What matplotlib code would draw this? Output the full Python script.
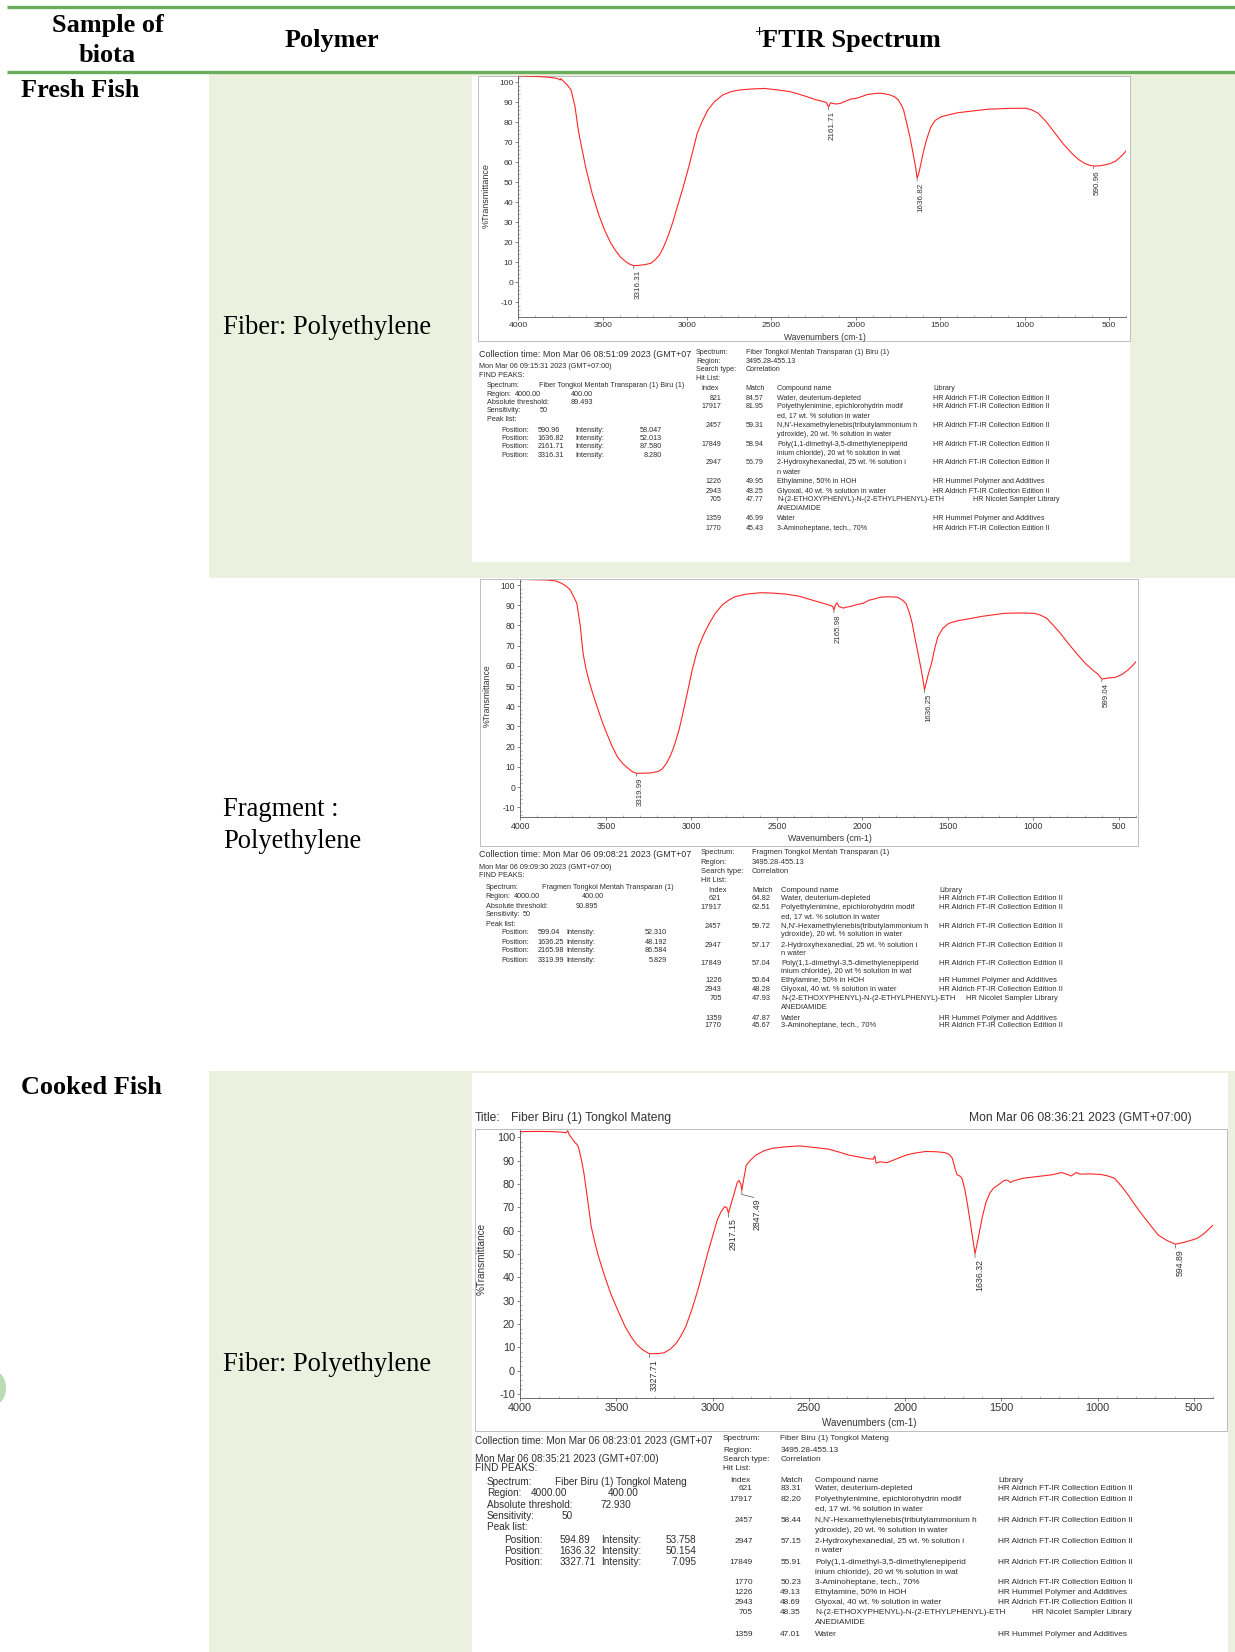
import matplotlib
matplotlib.use("Agg")
import matplotlib.pyplot as plt
from matplotlib.patches import Rectangle, Ellipse
from matplotlib.ticker import MultipleLocator
from matplotlib.transforms import offset_copy

plt.rcParams["axes.unicode_minus"] = False
plt.rcParams["font.family"] = "Liberation Sans"

# ---------------- spectra ----------------
# fresh fish, fiber
wn_fresh_fiber = [4000, 3900, 3820, 3770, 3752, 3748, 3735, 3710, 3688, 3665,
                  3645, 3626, 3600, 3563, 3525, 3489, 3455, 3426, 3395, 3364,
                  3340, 3316.31, 3290, 3250, 3214, 3190, 3164, 3140, 3114, 3085,
                  3052, 3020, 2990, 2965, 2940, 2910, 2877, 2840, 2790, 2740,
                  2690, 2620, 2541, 2460, 2391, 2340, 2291, 2240, 2200, 2175,
                  2161.71, 2150, 2120, 2092, 2060, 2030, 2000, 1967, 1930, 1900,
                  1870, 1842, 1800, 1770, 1750, 1730, 1717, 1700, 1680, 1660,
                  1645, 1636.82, 1628, 1615, 1600, 1585, 1570, 1555, 1530, 1493,
                  1450, 1393, 1300, 1218, 1100, 994, 960, 919, 870, 819,
                  770, 720, 680, 645, 610, 590.96, 560, 530, 495, 460,
                  420, 400]
tr_fresh_fiber = [103.0, 102.8, 102.4, 101.8, 101.0, 101.7, 100.5, 98.5, 96.0, 88.0,
                  76.0, 67.7, 57.0, 44.4, 34.0, 26.0, 20.0, 16.0, 12.6, 10.3,
                  9.0, 8.28, 8.4, 8.8, 9.5, 11.2, 13.6, 17.5, 22.8, 30.0,
                  39.4, 48.5, 57.7, 66.0, 74.4, 80.5, 86.0, 90.0, 93.5, 95.2,
                  96.0, 96.5, 96.8, 96.0, 95.2, 94.0, 92.7, 91.2, 90.4, 89.8,
                  87.58, 89.6, 89.0, 89.3, 90.5, 91.5, 91.8, 92.7, 93.8, 94.1,
                  94.4, 94.3, 93.6, 92.6, 91.2, 88.5, 86.0, 80.0, 72.7, 64.0,
                  57.0, 52.01, 54.0, 59.0, 65.0, 70.0, 74.0, 77.7, 80.8, 82.7,
                  83.6, 84.7, 85.6, 86.4, 86.8, 86.9, 86.2, 84.4, 80.0, 74.4,
                  69.0, 64.4, 61.3, 59.4, 58.3, 58.05, 58.1, 58.5, 59.2, 60.5,
                  63.5, 65.5]
peaks_fresh_fiber = [3316.31, 2161.71, 1636.82, 590.96]

# fresh fish, fragment
wn_fresh_fragment = [4000, 3900, 3845, 3790, 3758, 3730, 3708, 3690, 3670, 3650,
                     3633, 3615, 3595, 3570, 3545, 3520, 3495, 3465, 3433, 3400,
                     3370, 3345, 3319.99, 3280, 3240, 3195, 3170, 3145, 3120, 3095,
                     3070, 3045, 3020, 2995, 2975, 2958, 2925, 2895, 2860, 2820,
                     2780, 2745, 2680, 2595, 2520, 2445, 2370, 2295, 2230, 2190,
                     2172, 2165.98, 2158, 2148, 2135, 2110, 2095, 2060, 2030, 1995,
                     1960, 1925, 1895, 1850, 1795, 1770, 1745, 1725, 1708, 1690,
                     1670, 1655, 1645, 1636.25, 1628, 1612, 1595, 1578, 1558, 1530,
                     1495, 1450, 1395, 1300, 1170, 1080, 995, 960, 920, 880,
                     840, 795, 745, 695, 650, 620, 599.04, 560, 520, 480,
                     445, 415, 400]
tr_fresh_fragment = [102.8, 102.6, 102.5, 102.0, 100.8, 99.3, 97.5, 94.5, 91.0, 80.0,
                     66.0, 58.0, 51.4, 44.5, 38.2, 32.0, 26.6, 20.5, 15.0, 11.5,
                     9.3, 7.6, 6.8, 6.9, 7.0, 7.7, 9.0, 11.8, 16.0, 21.7,
                     29.0, 38.2, 48.0, 58.0, 64.5, 69.5, 76.0, 81.0, 86.0, 90.1,
                     92.6, 94.2, 95.5, 96.2, 96.0, 95.5, 94.5, 92.6, 91.0, 90.0,
                     89.3, 87.6, 90.0, 91.2, 89.3, 88.6, 89.0, 89.6, 90.4, 91.0,
                     92.5, 93.2, 94.0, 94.2, 94.0, 92.8, 91.0, 86.5, 81.0, 73.0,
                     64.5, 58.0, 53.0, 48.2, 51.0, 56.5, 61.2, 68.0, 74.4, 78.5,
                     81.0, 82.2, 83.0, 84.5, 86.0, 86.2, 86.0, 85.2, 83.5, 79.8,
                     76.0, 71.1, 66.0, 61.2, 57.8, 55.8, 53.5, 54.0, 54.3, 55.8,
                     58.0, 60.5, 62.0]
peaks_fresh_fragment = [3319.99, 2165.98, 1636.25, 599.04]

# cooked fish, fiber
wn_cooked_fiber = [4000, 3900, 3831, 3790, 3760, 3752, 3745, 3718, 3700, 3693,
                   3680, 3668, 3650, 3630, 3610, 3592, 3560, 3529, 3490, 3454,
                   3420, 3391, 3360, 3327.71, 3290, 3252, 3220, 3189, 3165, 3139,
                   3108, 3076, 3050, 3025, 3000, 2975, 2955, 2937, 2925, 2917.15,
                   2905, 2887, 2872, 2862, 2853, 2847.49, 2838, 2824, 2800, 2774,
                   2730, 2686, 2620, 2547, 2470, 2396, 2340, 2295, 2230, 2190,
                   2165, 2157, 2150, 2130, 2094, 2060, 2030, 1993, 1950, 1892,
                   1840, 1792, 1770, 1754, 1740, 1729, 1715, 1704, 1690, 1675,
                   1660, 1648, 1636.32, 1625, 1612, 1598, 1580, 1560, 1540, 1515,
                   1490, 1477, 1465, 1452, 1440, 1389, 1300, 1238, 1187, 1160,
                   1137, 1120, 1112, 1090, 1040, 986, 950, 911, 870, 835,
                   800, 760, 720, 684, 640, 594.89, 550, 520, 482, 450,
                   420, 400]
tr_cooked_fiber = [102.4, 102.5, 102.4, 102.2, 101.9, 102.8, 101.2, 98.1, 96.5, 94.6,
                   90.0, 84.6, 74.0, 61.7, 54.5, 48.9, 40.5, 33.1, 25.5, 18.9,
                   14.2, 11.0, 8.8, 7.3, 7.3, 7.7, 9.2, 11.7, 14.8, 18.9,
                   26.0, 34.6, 42.5, 50.3, 57.5, 64.6, 68.2, 70.3, 69.8, 67.4,
                   71.0, 76.0, 80.5, 81.5, 80.0, 77.2, 82.0, 88.1, 90.4, 92.4,
                   94.3, 95.3, 95.9, 96.3, 95.6, 94.9, 93.6, 92.4, 91.4, 90.8,
                   90.6, 92.0, 88.9, 89.5, 89.1, 90.2, 91.2, 92.4, 93.2, 93.9,
                   93.8, 93.4, 92.6, 91.0, 86.5, 83.9, 83.4, 82.4, 78.0, 71.0,
                   63.0, 56.5, 50.15, 54.5, 60.0, 66.0, 72.0, 76.0, 78.2, 79.6,
                   81.2, 81.7, 81.5, 80.6, 81.2, 82.4, 83.3, 83.9, 84.9, 84.2,
                   83.4, 84.3, 84.9, 84.2, 84.3, 84.1, 83.5, 82.4, 78.5, 74.6,
                   70.4, 66.0, 61.8, 58.1, 55.8, 54.2, 55.0, 55.7, 56.7, 58.5,
                   60.8, 62.3]
peaks_cooked_fiber = [3327.71, 2917.15, 2847.49, 1636.32, 594.89]

# ---------------- table text ----------------
header = ["Sample of", "biota", "Polymer", "FTIR Spectrum"]
samples = ["Fresh Fish", "Cooked Fish"]
polymers = ["Fiber: Polyethylene", "Fragment :", "Polyethylene", "Fiber: Polyethylene"]

ALD = "HR Aldrich FT-IR Collection Edition II"
HUM = "HR Hummel Polymer and Additives"
NIC = "HR Nicolet Sampler Library"
REGION = "3495.28-455.13"
N1 = ["Polyethylenimine, epichlorohydrin modif", "ed, 17 wt. % solution in water"]
N2 = ["N,N'-Hexamethylenebis(tributylammonium h", "ydroxide), 20 wt. % solution in water"]
N3 = ["Poly(1,1-dimethyl-3,5-dimethylenepiperid", "inium chloride), 20 wt % solution in wat"]
N4 = ["2-Hydroxyhexanedial, 25 wt. % solution i", "n water"]
N5 = ["N-(2-ETHOXYPHENYL)-N-(2-ETHYLPHENYL)-ETH", "ANEDIAMIDE"]

info_fresh_fiber = ["Collection time: Mon Mar 06 08:51:09 2023 (GMT+07",
                    "Mon Mar 06 09:15:31 2023 (GMT+07:00)",
                    "Fiber Tongkol Mentah Transparan (1) Biru (1)", "89.493"]
peaklist_fresh_fiber = [("590.96", "58.047"), ("1636.82", "52.013"),
                        ("2161.71", "87.580"), ("3316.31", "8.280")]
hits_fresh_fiber = [("821", "84.57", ["Water, deuterium-depleted"], ALD),
                    ("17917", "81.95", N1, ALD), ("2457", "59.31", N2, ALD),
                    ("17849", "58.94", N3, ALD), ("2947", "56.79", N4, ALD),
                    ("1226", "49.95", ["Ethylamine, 50% in HOH"], HUM),
                    ("2943", "48.25", ["Glyoxal, 40 wt. % solution in water"], ALD),
                    ("705", "47.77", N5, NIC), ("1359", "46.99", ["Water"], HUM),
                    ("1770", "45.43", ["3-Aminoheptane, tech., 70%"], ALD)]

info_fresh_fragment = ["Collection time: Mon Mar 06 09:08:21 2023 (GMT+07",
                       "Mon Mar 06 09:09:30 2023 (GMT+07:00)",
                       "Fragmen Tongkol Mentah Transparan (1)", "90.895"]
peaklist_fresh_fragment = [("599.04", "52.310"), ("1636.25", "48.192"),
                           ("2165.98", "86.584"), ("3319.99", "5.829")]
hits_fresh_fragment = [("621", "64.82", ["Water, deuterium-depleted"], ALD),
                       ("17917", "62.51", N1, ALD), ("2457", "59.72", N2, ALD),
                       ("2947", "57.17", N4, ALD), ("17849", "57.04", N3, ALD),
                       ("1226", "50.64", ["Ethylamine, 50% in HOH"], HUM),
                       ("2943", "48.28", ["Glyoxal, 40 wt. % solution in water"], ALD),
                       ("705", "47.93", N5, NIC), ("1359", "47.87", ["Water"], HUM),
                       ("1770", "45.67", ["3-Aminoheptane, tech., 70%"], ALD)]

info_cooked_fiber = ["Collection time: Mon Mar 06 08:23:01 2023 (GMT+07",
                     "Mon Mar 06 08:35:21 2023 (GMT+07:00)",
                     "Fiber Biru (1) Tongkol Mateng", "72.930"]
title_cooked_fiber = ["Title:", "Fiber Biru (1) Tongkol Mateng", "Mon Mar 06 08:36:21 2023 (GMT+07:00)"]
peaklist_cooked_fiber = [("594.89", "53.758"), ("1636.32", "50.154"), ("3327.71", "7.095")]
hits_cooked_fiber = [("621", "83.31", ["Water, deuterium-depleted"], ALD),
                     ("17917", "82.20", N1, ALD), ("2457", "58.44", N2, ALD),
                     ("2947", "57.15", N4, ALD), ("17849", "55.91", N3, ALD),
                     ("1770", "50.23", ["3-Aminoheptane, tech., 70%"], ALD),
                     ("1226", "49.13", ["Ethylamine, 50% in HOH"], HUM),
                     ("2943", "48.69", ["Glyoxal, 40 wt. % solution in water"], ALD),
                     ("705", "48.35", N5, NIC), ("1359", "47.01", ["Water"], HUM)]

# ---------------- figure ----------------
W, H = 1235, 1652
GREEN = "#6aad5b"
TINT = "#ebf1de"
INK = "#2e2e2e"
SANS = "Liberation Sans"
SERIF = "Liberation Serif"

fig = plt.figure(figsize=(W / 100, H / 100), dpi=100)
bg = fig.add_axes([0, 0, 1, 1])
bg.set_xlim(0, W)
bg.set_ylim(H, 0)
bg.axis("off")
renderer = fig.canvas.get_renderer()


def fit(s, width, family=SANS, weight="normal"):
    t = bg.text(0, 0, s, fontsize=10, family=family, weight=weight)
    w = t.get_window_extent(renderer).width
    t.remove()
    return 10.0 * width / w


def put(x, y, s, size, ha="left", family=SANS, weight="normal", color=INK, **kw):
    return bg.text(x, y, s, fontsize=size, ha=ha, va="center", family=family,
                   weight=weight, color=color, **kw)


def after(label, x, gap=3):
    # value column: keep the reference x unless the label runs into it
    ext = label.get_window_extent(renderer)
    return max(x, ext.x1 + gap)


# table background, rules, picture frames
bg.add_patch(Rectangle((209, 74), W - 209, 578 - 74, color=TINT, lw=0))
bg.add_patch(Rectangle((209, 1071), W - 209, H - 1071, color=TINT, lw=0))
bg.add_patch(Rectangle((472, 76), 1130 - 472, 562 - 76, color="white", lw=0))
bg.add_patch(Rectangle((472, 1073), 1228 - 472, H - 1073, color="white", lw=0))
for yy in (6.5, 71.5):
    bg.plot([7, W], [yy, yy], color=GREEN, lw=2.4, solid_capstyle="butt")
for x0, y0, x1, y1 in [(477.5, 76, 1129.5, 341), (479.5, 579, 1138, 846),
                       (475, 1129, 1226.5, 1431)]:
    bg.add_patch(Rectangle((x0, y0), x1 - x0, y1 - y0, fill=False, ec="#bdbdbd", lw=0.7))
bg.add_patch(Ellipse((-6, 1388), 24, 34, color="#b9dcb2", lw=0))

# header and first two columns
fs_head = fit("Polymer", 95, SERIF, "bold")
put(107.5, 25.3, header[0], fs_head, ha="center", family=SERIF, weight="bold", color="black")
put(107.5, 55, header[1], fs_head, ha="center", family=SERIF, weight="bold", color="black")
put(332, 40, header[2], fs_head, ha="center", family=SERIF, weight="bold", color="black")
put(762, 40, header[3], fs_head, family=SERIF, weight="bold", color="black")
put(754, 33, "+", fs_head * 0.6, family=SERIF, weight="bold", color="black")

fs_row = fit(samples[1], 141, SERIF, "bold")
put(21, 90.6, samples[0], fs_row, family=SERIF, weight="bold", color="black")
put(21, 1087.5, samples[1], fs_row, family=SERIF, weight="bold", color="black")
fs_poly = fit(polymers[0], 208.6, SERIF)
put(223, 327.7, polymers[0], fs_poly, family=SERIF, color="black")
put(223, 810, polymers[1], fs_poly, family=SERIF, color="black")
put(223, 842, polymers[2], fs_poly, family=SERIF, color="black")
put(223, 1364.7, polymers[3], fs_poly, family=SERIF, color="black")


def spectrum(box, ylim, wn, tr, peaks, fs_tick, fs_peak, dx, tick_px, bends=None):
    left, top, right, bottom = box
    ax = fig.add_axes([left / W, 1 - bottom / H, (right - left) / W, (bottom - top) / H])
    ax.patch.set_visible(False)
    ax.set_xlim(4000, 400)
    ax.set_ylim(*ylim)
    ax.plot(wn, tr, color="#ff2626", lw=0.8)
    ax.spines[["top", "right"]].set_visible(False)
    for s in ("left", "bottom"):
        ax.spines[s].set_linewidth(0.6)
        ax.spines[s].set_color("#555555")
    ax.set_xticks(range(4000, 499, -500))
    ax.xaxis.set_minor_locator(MultipleLocator(100))
    ax.set_yticks(range(-10, 101, 10))
    ax.yaxis.set_minor_locator(MultipleLocator(2))
    ax.tick_params(which="major", length=2.5, width=0.5, color="#555555",
                   labelsize=fs_tick, pad=1.2, labelcolor="#333333")
    ax.tick_params(which="minor", length=1.5, width=0.4, direction="in", color="#888888")
    bends = bends or {}
    for p in peaks:
        t = tr[wn.index(p)]
        ax.annotate("", xy=(p, t), xytext=(0, -tick_px), textcoords="offset pixels",
                    arrowprops=dict(arrowstyle="-", color="#555555", lw=0.5,
                                    shrinkA=0, shrinkB=0.4))
        if p in bends:
            bx, by = bends[p]
            ax.annotate("", xy=(p, t), xycoords=offset_copy(ax.transData, fig=fig, x=0,
                                                            y=-tick_px, units="dots"),
                        xytext=(bx - 3, -by + tick_px + 1), textcoords="offset pixels",
                        arrowprops=dict(arrowstyle="-", color="#555555", lw=0.5,
                                        shrinkA=0, shrinkB=0))
            ax.annotate(f"{p:.2f}", xy=(p, t), xytext=(bx, -by), textcoords="offset pixels",
                        rotation=90, ha="center", va="top", fontsize=fs_peak, color="#333333")
        else:
            ax.annotate(f"{p:.2f}", xy=(p, t), xytext=(dx, -(tick_px + 1.2)),
                        textcoords="offset pixels", rotation=90, ha="center", va="top",
                        fontsize=fs_peak, color="#333333")
    return ax


spectrum((518.4, 76, 1125.8, 316.7), (-17.2, 103.0), wn_fresh_fiber, tr_fresh_fiber,
         peaks_fresh_fiber, fit("3500", 18.9), fit("3316.31", 29), 4, 3)
spectrum((520.4, 580, 1135.8, 817.3), (-14.95, 102.5), wn_fresh_fragment, tr_fresh_fragment,
         peaks_fresh_fragment, fit("3500", 19.2), fit("3319.99", 28.3), 4, 3)
spectrum((520, 1130, 1213, 1398.3), (-11.8, 103.1), wn_cooked_fiber, tr_cooked_fiber,
         peaks_cooked_fiber, fit("3500", 24.2), fit("3327.71", 31.7), 5, 4,
         bends={2847.49: (15, 8)})

# axis titles
for (xl, yl, wx), (xt, yt, wt) in [((825, 337.7, 82), (486, 196, 65)),
                                   ((830, 838.3, 84), (487, 696, 63)),
                                   ((869.5, 1423, 95), (482, 1259, 72))]:
    put(xl, yl, "Wavenumbers (cm-1)", fit("Wavenumbers (cm-1)", wx), ha="center", color="#333333")
    put(xt, yt, "%Transmittance", fit("%Transmittance", wt), ha="center",
        rotation=90, color="#333333")

# title line of the cooked fish spectrum
fs_title = fit(title_cooked_fiber[2], 223)
put(475, 1118, title_cooked_fiber[0], fs_title, color="#333333")
put(511, 1118, title_cooked_fiber[1], fs_title, color="#333333")
put(1192, 1118, title_cooked_fiber[2], fs_title, ha="right", color="#333333")


def left_block(ys, xs, fs_big, fs, info, plist):
    base, ind, specx, r1x, r2x, thrx, sensx, posx, numx, intx, valx = xs
    put(base, ys[0], info[0], fs_big)
    put(base, ys[1], info[1], fs)
    put(base, ys[2], "FIND PEAKS:", fs)
    lab = put(ind, ys[3], "Spectrum:", fs)
    put(after(lab, specx), ys[3], info[2], fs)
    lab = put(ind, ys[4], "Region:", fs)
    put(after(lab, r1x), ys[4], "4000.00", fs)
    put(r2x, ys[4], "400.00", fs)
    lab = put(ind, ys[5], "Absolute threshold:", fs)
    put(after(lab, thrx), ys[5], info[3], fs)
    lab = put(ind, ys[6], "Sensitivity:", fs)
    put(after(lab, sensx), ys[6], "50", fs)
    put(ind, ys[7], "Peak list:", fs)
    for i, (pos, val) in enumerate(plist):
        y = ys[8 + i]
        lab = put(posx, y, "Position:", fs)
        put(after(lab, numx), y, pos, fs)
        put(intx, y, "Intensity:", fs)
        put(valx, y, val, fs, ha="right")


def right_block(ys, xs, fs, spec, hits):
    labx, valx, idxh, idxr, compx, libx, nicx = xs
    put(labx, ys[0], "Spectrum:", fs)
    put(valx, ys[0], spec, fs)
    put(labx, ys[1], "Region:", fs)
    put(valx, ys[1], REGION, fs)
    put(labx, ys[2], "Search type:", fs)
    put(valx, ys[2], "Correlation", fs)
    put(labx, ys[3], "Hit List:", fs)
    put(idxh, ys[4], "Index", fs)
    put(valx, ys[4], "Match", fs)
    put(compx, ys[4], "Compound name", fs)
    put(libx, ys[4], "Library", fs)
    k = 5
    for idx, match, names, lib in hits:
        put(idxr, ys[k], idx, fs, ha="right")
        put(valx, ys[k], match, fs)
        put(nicx if lib == NIC else libx, ys[k], lib, fs)
        for name in names:
            put(compx, ys[k], name, fs)
            k += 1


left_block([354.1, 366.7, 375.2, 385.7, 394.1, 402.6, 411, 419.4, 430, 438.5, 447, 455.5],
           (479, 486.8, 539.4, 510, 571, 571, 539.4, 501.6, 537.3, 575.2, 662.3),
           fit(info_fresh_fiber[0], 210),
           min(fit(info_fresh_fiber[1], 132.6), fit(info_fresh_fiber[2], 145)),
           info_fresh_fiber, peaklist_fresh_fiber)
right_block([352, 361.5, 369.9, 378.3, 388.9, 398.3, 406.8, 415.2, 425.7, 434.2, 444.7,
             453.1, 462.6, 472.1, 481.6, 491.1, 499.5, 509, 518.5, 528],
            (696, 745.7, 701.5, 721.7, 777.2, 933, 973), fit(ALD, 118),
            info_fresh_fiber[2], hits_fresh_fiber)

left_block([854.6, 867.3, 875.7, 887.3, 896.8, 906.3, 914.7, 924.2, 932.6, 942, 950.6, 960],
           (479.3, 485.6, 541.5, 510, 581.5, 575.2, 516.3, 501.6, 537.3, 566.8, 667),
           fit(info_fresh_fragment[0], 210),
           min(fit(info_fresh_fragment[1], 136), fit(info_fresh_fragment[2], 132.5)),
           info_fresh_fragment, peaklist_fresh_fragment)
right_block([852.5, 862, 871.5, 880, 890.5, 899, 907.3, 916.8, 926.3, 934.7, 945.3, 953.7,
             963.2, 971.6, 981, 989.5, 999, 1007.4, 1018, 1025.3],
            (700.6, 752, 707.8, 721.7, 781.4, 939.3, 965.8), fit(ALD, 124),
            info_fresh_fragment[2], hits_fresh_fragment)

left_block([1440.5, 1458.5, 1468, 1481.6, 1493, 1504.8, 1516.4, 1527, 1539.6, 1551.2, 1561.7],
           (474.8, 487, 554.8, 530.6, 608, 600.9, 562, 503.9, 559.7, 600.9, 696.4),
           fit(info_cooked_fiber[0], 237),
           min(fit(info_cooked_fiber[1], 184), fit(info_cooked_fiber[2], 133)),
           info_cooked_fiber, peaklist_cooked_fiber)
right_block([1438.4, 1450, 1459.5, 1469, 1480.6, 1489, 1499.6, 1509, 1520.6, 1531, 1541.7,
             1551, 1562.8, 1572, 1582.8, 1593, 1603, 1612, 1622, 1634],
            (723, 780.2, 730.3, 752.6, 815, 998.4, 1032.3), fit(ALD, 136),
            info_cooked_fiber[2], hits_cooked_fiber)

fig.savefig("out.png", dpi=100)
